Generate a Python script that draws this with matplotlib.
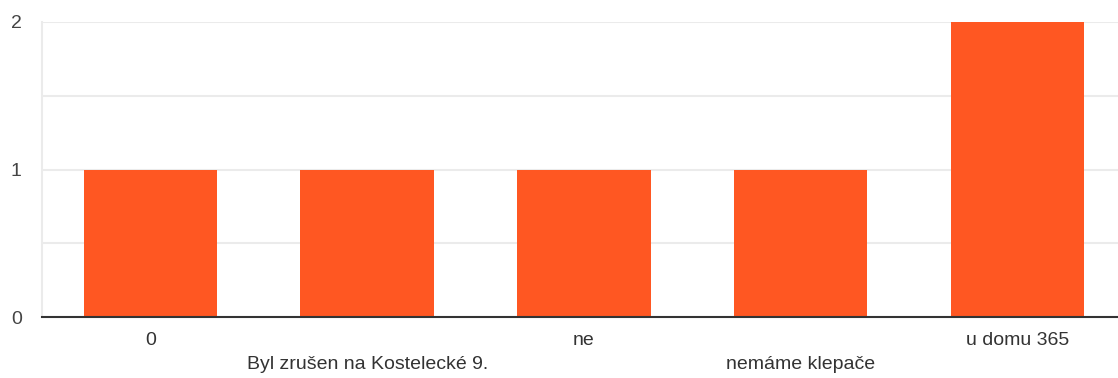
import numpy as np
import matplotlib
matplotlib.use('Agg')
import matplotlib.pyplot as plt

# data
categories = ['0', 'Byl zrušen na Kostelecké 9.', 'ne', 'nemáme klepače', 'u domu 365']
counts = [1, 1, 1, 1, 2]
y_ticks = [0, 1, 2]

plt.rcParams['font.family'] = ['Liberation Sans', 'DejaVu Sans']

fig = plt.figure(figsize=(11.18, 3.78), dpi=100)
ax = fig.add_axes([42/1118, 61/378, 1076/1118, 295/378])

x = np.arange(len(categories))
ax.bar(x, counts, width=0.615, color='#FF5722', zorder=3)

# alternate label rows, like the original
labels = [c if i % 2 == 0 else '\n' + c for i, c in enumerate(categories)]
ax.set_xticks(x)
ax.set_xticklabels(labels, fontsize=14, color='#333333', linespacing=1.5)
ax.set_yticks(y_ticks)
ax.set_yticklabels([str(v) for v in y_ticks], fontsize=14, color='#444444')
ax.tick_params(axis='x', length=0, pad=11)
ax.tick_params(axis='y', length=0, pad=14.5)

ax.set_xlim(-0.5, (1118-151.5)/216.5)
ax.set_ylim(0, 2)

# gridlines
for v in [0.5, 1, 1.5, 2]:
    ax.axhline(v, color='#ebebeb', linewidth=1.5, zorder=1)

for s in ['top', 'right']:
    ax.spines[s].set_visible(False)
ax.spines['left'].set_color('#ebebeb')
ax.spines['left'].set_linewidth(1.5)
ax.spines['bottom'].set_color('#333333')
ax.spines['bottom'].set_linewidth(1.5)
ax.spines['bottom'].set_zorder(4)

fig.savefig('out.png', dpi=100)
